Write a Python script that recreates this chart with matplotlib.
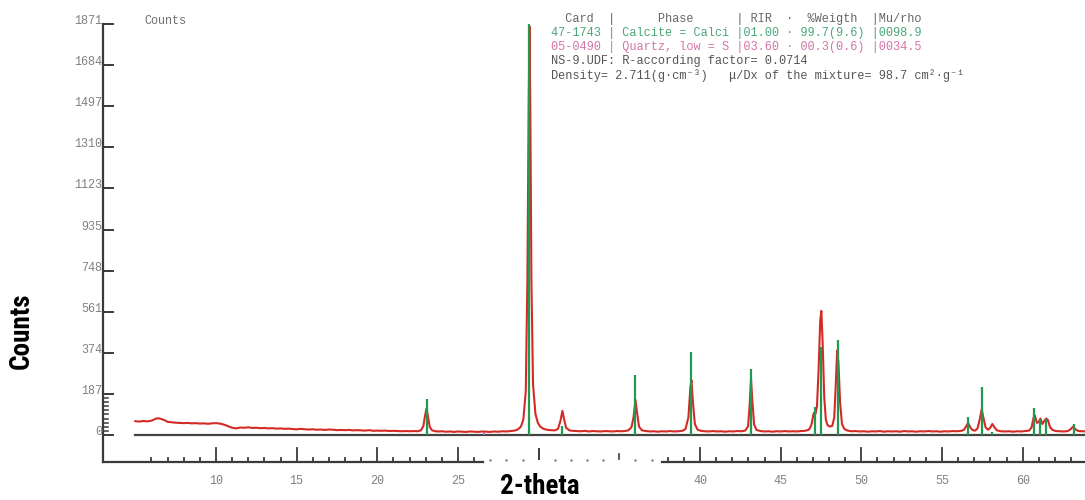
import matplotlib
matplotlib.use('Agg')
import matplotlib.pyplot as plt
from matplotlib import font_manager

# =====================
# Data
# =====================
# measured pattern (red), 2-theta in degrees and counts
red_theta = [5.00, 5.25, 5.50, 5.75, 6.00, 6.15, 6.30, 6.45, 6.60, 6.80, 7.00, 7.25, 7.50, 7.75,
             8.00, 8.25, 8.50, 8.75, 9.00, 9.25, 9.50, 9.75, 10.00, 10.25, 10.50, 10.75, 11.00,
             11.25, 11.50, 11.75, 12.00, 12.25, 12.50, 12.75, 13.00, 13.25, 13.50, 13.75, 14.00,
             14.25, 14.50, 14.75, 15.00, 15.25, 15.50, 15.75, 16.00, 16.25, 16.50, 16.75, 17.00,
             17.25, 17.50, 17.75, 18.00, 18.25, 18.50, 18.75, 19.00, 19.25, 19.50, 19.75, 20.00,
             20.25, 20.50, 20.75, 21.00, 21.25, 21.50, 21.75, 22.00, 22.25, 22.50, 22.70, 22.85,
             22.95, 23.05, 23.15, 23.25, 23.40, 23.60, 23.80, 24.00, 24.25, 24.50, 24.75, 25.00,
             25.25, 25.50, 25.75, 26.00, 26.25, 26.50, 26.75, 27.00, 27.25, 27.50, 27.75, 28.00,
             28.25, 28.50, 28.70, 28.90, 29.05, 29.20, 29.30, 29.38, 29.43, 29.48, 29.55, 29.65,
             29.80, 29.95, 30.10, 30.30, 30.50, 30.75, 31.00, 31.20, 31.35, 31.47, 31.58, 31.70,
             31.90, 32.10, 32.35, 32.60, 32.85, 33.10, 33.35, 33.60, 33.85, 34.10, 34.35, 34.60,
             34.85, 35.10, 35.35, 35.55, 35.75, 35.88, 36.00, 36.10, 36.22, 36.40, 36.65, 36.90,
             37.15, 37.40, 37.65, 37.90, 38.15, 38.40, 38.65, 38.90, 39.10, 39.28, 39.40, 39.47,
             39.56, 39.68, 39.85, 40.05, 40.30, 40.55, 40.80, 41.05, 41.30, 41.55, 41.80, 42.05,
             42.30, 42.55, 42.80, 42.98, 43.08, 43.16, 43.25, 43.35, 43.50, 43.75, 44.00, 44.25,
             44.50, 44.75, 45.00, 45.25, 45.50, 45.75, 46.00, 46.25, 46.50, 46.75, 46.90, 47.05,
             47.15, 47.25, 47.35, 47.45, 47.52, 47.60, 47.70, 47.80, 47.90, 48.05, 48.20, 48.32,
             48.42, 48.50, 48.58, 48.68, 48.80, 48.95, 49.15, 49.40, 49.65, 49.90, 50.15, 50.40,
             50.65, 50.90, 51.15, 51.40, 51.65, 51.90, 52.15, 52.40, 52.65, 52.90, 53.15, 53.40,
             53.65, 53.90, 54.15, 54.40, 54.65, 54.90, 55.15, 55.40, 55.65, 55.90, 56.15, 56.35,
             56.50, 56.62, 56.75, 56.90, 57.05, 57.20, 57.35, 57.46, 57.56, 57.70, 57.85, 57.98,
             58.12, 58.25, 58.40, 58.65, 58.90, 59.15, 59.40, 59.65, 59.90, 60.15, 60.40, 60.55,
             60.68, 60.76, 60.88, 61.00, 61.10, 61.22, 61.35, 61.45, 61.55, 61.70, 61.85, 62.05,
             62.30, 62.55, 62.80, 62.98, 63.12, 63.25, 63.45, 63.70, 64.00]
red_counts = [63, 61, 64, 62, 65, 70, 75, 76, 73, 68, 60, 58, 56, 55,
              54, 55, 53, 54, 52, 53, 51, 53, 54, 52, 47, 40, 33,
              30, 34, 33, 35, 32, 33, 31, 32, 30, 31, 29, 30,
              28, 29, 27, 26, 28, 26, 25, 26, 24, 25, 23, 25,
              24, 22, 23, 22, 23, 21, 22, 21, 20, 22, 19, 20,
              19, 20, 18, 19, 18, 17, 18, 17, 18, 17, 21, 40,
              85, 122, 80, 36, 21, 17, 16, 17, 15, 16, 14, 16,
              15, 14, 16, 15, 14, 16, 15, 14, 16, 15, 17, 16,
              18, 20, 25, 38, 70, 200, 700, 1500, 1860, 1500, 700, 230,
              95, 55, 38, 28, 24, 22, 21, 28, 65, 110, 70, 33,
              21, 19, 18, 17, 19, 16, 18, 17, 16, 18, 17, 16,
              18, 17, 18, 21, 35, 80, 160, 100, 38, 21, 18, 16,
              17, 15, 17, 16, 18, 16, 17, 19, 27, 80, 215, 250,
              150, 50, 24, 19, 17, 16, 18, 16, 17, 15, 17, 16,
              18, 17, 20, 40, 140, 255, 150, 48, 23, 18, 16, 17,
              15, 17, 16, 18, 16, 17, 16, 18, 19, 24, 45, 100,
              95, 130, 300, 520, 565, 420, 170, 70, 45, 38, 42, 80,
              240, 385, 330, 150, 50, 27, 20, 17, 18, 16, 17, 15,
              17, 16, 18, 15, 17, 16, 17, 15, 18, 16, 17, 15,
              17, 16, 18, 16, 17, 15, 17, 16, 18, 17, 18, 23,
              40, 55, 35, 22, 20, 30, 75, 118, 80, 35, 24, 32,
              50, 35, 21, 17, 16, 17, 15, 17, 16, 18, 20, 35,
              80, 88, 55, 60, 75, 50, 65, 75, 70, 35, 23, 18,
              17, 16, 18, 27, 38, 27, 18, 17, 16]

# reference sticks: calcite 47-1743 (green) and quartz 05-0490 (pink)
calcite_theta = [23.05, 29.43, 31.47, 36.00, 39.43, 43.16, 47.12, 47.52, 48.53,
                 56.60, 57.45, 58.12, 60.72, 61.08, 61.45, 63.15]
calcite_counts = [166, 1871, 41, 273, 378, 300, 129, 402, 432,
                  82, 220, 15, 121, 73, 73, 50]
quartz_theta = [26.64]
quartz_counts = [14]

y_ticks = [0, 187, 374, 561, 748, 935, 1123, 1310, 1497, 1684, 1871]
x_labels = [10, 15, 20, 25, 40, 45, 50, 55, 60]
x_gap = (26.56, 37.66)   # stretch of the 2-theta axis that is printed dotted

header = ["  Card  |      Phase      | RIR  \u00b7  %Weigth  |Mu/rho",
          "47-1743 | Calcite = Calci |01.00 \u00b7 99.7(9.6) |0098.9",
          "05-0490 | Quartz, low = S |03.60 \u00b7 00.3(0.6) |0034.5",
          "NS-9.UDF: R-according factor= 0.0714",
          "Density= 2.711(g\u00b7cm\u207b\u00b3)   \u03bc/Dx of the mixture= 98.7 cm\u00b2\u00b7g\u207b\u00b9"]
header_colors = ['#666666', '#4aa77a', '#d275a8', '#555555', '#555555']

# =====================
# Figure (pixel mapping of the scan)
# =====================
W, H = 1085, 500
X0, XS = 54.66, 16.134      # px of 0 deg, px per deg
Y0, YS = 435.0, 0.21967     # px of 0 counts, px per count


def dx(p):
    return (p - X0) / XS


def dy(p):
    return (Y0 - p) / YS


mono = ['Liberation Mono', 'DejaVu Sans Mono']
installed = {f.name for f in font_manager.fontManager.ttflist}
narrow = [n for n in ['Liberation Sans Narrow', 'Roboto Condensed', 'Open Sans Condensed',
                      'Noto Sans Display', 'Roboto', 'DejaVu Sans'] if n in installed]
axc = '#3a3a3a'

fig = plt.figure(figsize=(W / 100, H / 100), dpi=100)
ax = fig.add_axes([0, 0, 1, 1])
ax.set_xlim(dx(0), dx(W))
ax.set_ylim(dy(H), dy(0))
ax.axis('off')

# zero line
ax.plot([red_theta[0], dx(W)], [0, 0], color='#444444', lw=1.6, zorder=1)

# pattern and sticks
ax.plot(red_theta, red_counts, color='#d42a26', lw=1.5, zorder=2)
ax.vlines(calcite_theta, 0, calcite_counts, color='#1f9a50', lw=1.6, zorder=3)
ax.vlines(quartz_theta, 0, quartz_counts, color='#d060a8', lw=1.4, zorder=3)

# y axis
ax.plot([dx(102.7), dx(102.7)], [y_ticks[-1], dy(462)], color=axc, lw=1.6)
for v in y_ticks:
    ax.plot([dx(102.7), dx(113)], [v, v], color=axc, lw=1.4)
    ax.text(dx(102), v + 3 / YS, str(v), ha='right', va='center',
            family=mono, fontsize=8.5, color='#808080')
for v in range(1, 10):
    m = y_ticks[1] * v / 10
    ax.plot([dx(102.7), dx(107.5)], [m, m], color=axc, lw=1.1)

# 2-theta axis, broken in the middle
ax.plot([dx(102.7), x_gap[0]], [dy(462)] * 2, color=axc, lw=1.6)
ax.plot([x_gap[1], dx(W)], [dy(462)] * 2, color=axc, lw=1.6)
for d in range(6, 64):
    inside = x_gap[0] < d < x_gap[1]
    if inside:
        if d == 30:
            ax.plot([d, d], [dy(459), dy(449)], color=axc, lw=1.4)
        elif d == 35:
            ax.plot([d, d], [dy(459), dy(454)], color=axc, lw=1.2)
        else:
            ax.plot([d], [dy(459.5)], 's', ms=1.6, color='#666666', mec='none')
    else:
        top = 448 if d % 5 == 0 else 458
        ax.plot([d, d], [dy(462), dy(top)], color=axc, lw=1.3)
for d in x_labels:
    ax.text(d, dy(481), str(d), ha='center', va='center',
            family=mono, fontsize=8.5, color='#808080')

# texts
fig.text(144 / W, 1 - 21 / H, 'Counts', ha='left', va='center',
         family=mono, fontsize=8.5, color='#707070')
for i, (line, c) in enumerate(zip(header, header_colors)):
    fig.text(551 / W, 1 - (19 + 14.1 * i) / H, line, ha='left', va='center',
             family=mono, fontsize=8.55, color=c)

fig.text(21 / W, 1 - 331 / H, 'Counts', rotation=90, ha='center', va='center',
         family=narrow, fontsize=19.5, fontweight='bold', fontstretch='condensed',
         color='black')
fig.text(540 / W, 0.0, '2-theta', ha='center', va='bottom',
         family=narrow, fontsize=19.5, fontweight='bold', fontstretch='condensed',
         color='black')

fig.savefig('out.png', dpi=100)
